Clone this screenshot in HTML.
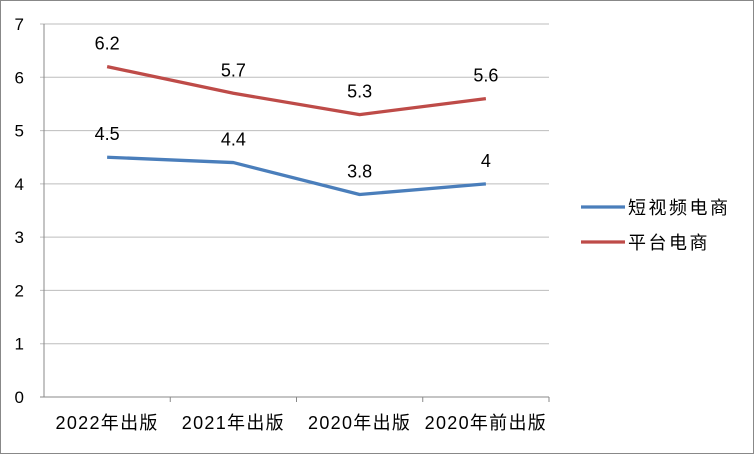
<!DOCTYPE html>
<html><head><meta charset="utf-8"><style>
body{margin:0;background:#fff}
svg text{font-family:"Liberation Sans","Noto Sans CJK SC",sans-serif;fill:#000}
</style></head><body>
<svg width="754" height="454" viewBox="0 0 754 454">
<rect x="0.5" y="0.5" width="753" height="453" fill="#fff" stroke="#888"/>
<g id="grid"></g><g id="axes"></g><g id="series"></g><g id="legend"></g>
</svg>
<script>
const categories=["2022年出版","2021年出版","2020年出版","2020年前出版"];
const seriesNames=["短视频电商","平台电商"];
const shortVideo=[4.5,4.4,3.8,4];
const platform=[6.2,5.7,5.3,5.6];
const valueLabels1=["4.5","4.4","3.8","4"];
const valueLabels2=["6.2","5.7","5.3","5.6"];
const yTicks=[0,1,2,3,4,5,6,7];
const colors=["#4a7ebb","#be4b48"];
const NS="http://www.w3.org/2000/svg";
const L=44,R=549,T=24,B=397,yMax=7;
const bw=(R-L)/categories.length;
const x=i=>L+bw*(i+0.5);
const y=v=>B-(v/yMax)*(B-T);
function mk(tag,attrs,parent,text){const e=document.createElementNS(NS,tag);for(const k in attrs)e.setAttribute(k,attrs[k]);if(text!==undefined)e.textContent=text;parent.appendChild(e);return e;}
const grid=document.getElementById('grid'),axes=document.getElementById('axes'),ser=document.getElementById('series'),leg=document.getElementById('legend');
yTicks.forEach(t=>{
 const g=mk('line',{x1:L-4,x2:R,y1:y(t),y2:y(t),stroke:t===0?'#888':'#bdbdbd','stroke-width':1},grid);
 
 
 const lb=mk('text',{x:L-20,y:y(t)+6,'text-anchor':'end','font-size':17},axes,String(t));
 
 
});
const ax=mk('line',{x1:L,x2:L,y1:T,y2:B,stroke:'#888'},axes);


categories.forEach((c,i)=>{
 const tk=mk('line',{x1:L+bw*(i+1),x2:L+bw*(i+1),y1:B,y2:B+5,stroke:'#888'},axes);
 
 
 const lb=mk('text',{x:x(i),y:B+32,'text-anchor':'middle','font-size':18,'letter-spacing':1.3},axes,c);
 
 
});
[[shortVideo,valueLabels1],[platform,valueLabels2]].forEach(([d,lbl],s)=>{
 const p=mk('polyline',{points:d.map((v,i)=>x(i)+','+y(v)).join(' '),fill:'none',stroke:colors[s],'stroke-width':3.3,'stroke-linejoin':'round'},ser);
 
 
 d.forEach((v,i)=>{
  const t=mk('text',{x:x(i),y:y(v)-17,'text-anchor':'middle','font-size':18},ser,lbl[i]);
  
  
 });
});
seriesNames.forEach((n,s)=>{
 const yy=207+s*35;
 const l=mk('line',{x1:581,x2:625,y1:yy,y2:yy,stroke:colors[s],'stroke-width':3.3},leg);
 
 
 const t=mk('text',{x:628,y:yy+7,'font-size':18,'letter-spacing':2.5},leg,n);
 
 
});
</script>
</body></html>
